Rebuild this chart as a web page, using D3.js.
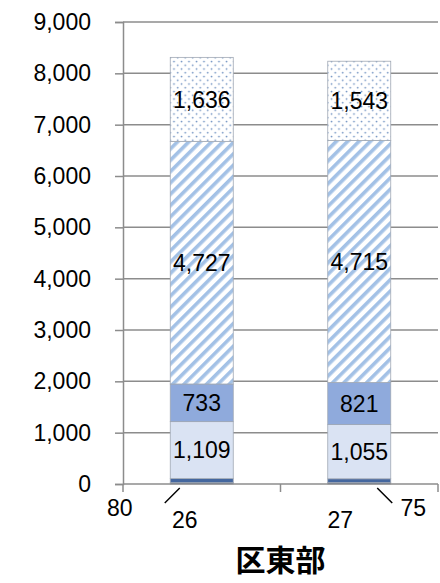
<!DOCTYPE html>
<html><head><meta charset="utf-8">
<script src="https://cdn.jsdelivr.net/npm/d3@7"></script>
<style>body{margin:0;background:#fff}svg{display:block}</style>
</head><body>
<svg id="chart" width="440" height="583"></svg>
<script>
const categories = ["c1", "c2"];
const groupLabel = "区東部";
const seriesNames = ["s1", "s2", "s3", "s4", "s5", "s6"];
const s1 = [26, 27];
const s2 = [80, 75];
const s3 = [1109, 1055];
const s4 = [733, 821];
const s5 = [4727, 4715];
const s6 = [1636, 1543];
const yTicks = [0, 1000, 2000, 3000, 4000, 5000, 6000, 7000, 8000, 9000];

(function () {
const seriesValues = [s1, s2, s3, s4, s5, s6];
const table = categories.map((c, i) => {
  const row = {cat: c};
  seriesNames.forEach((s, k) => row[s] = seriesValues[k][i]);
  return row;
});

const svg = d3.select("#chart");
const font = "'Liberation Sans', Arial, sans-serif";
const defs = svg.append("defs");
const stripe = defs.append("pattern").attr("id", "stripe").attr("patternUnits", "userSpaceOnUse")
  .attr("width", 8).attr("height", 8).attr("patternTransform", "rotate(45)");
stripe.append("rect").attr("width", 8).attr("height", 8).attr("fill", "#fff");
stripe.append("rect").attr("x", 0).attr("width", 3.6).attr("height", 8).attr("fill", "#a3c1e6");
const dots = defs.append("pattern").attr("id", "dots").attr("patternUnits", "userSpaceOnUse")
  .attr("width", 7.5).attr("height", 7.5);
dots.append("rect").attr("width", 7.5).attr("height", 7.5).attr("fill", "#fff");
dots.append("circle").attr("cx", 1.5).attr("cy", 1.5).attr("r", 0.9).attr("fill", "#6d8fc0");
dots.append("circle").attr("cx", 5.25).attr("cy", 5.25).attr("r", 0.9).attr("fill", "#6d8fc0");

const fills = ["#2f5597", "#44679f", "#dae3f3", "#8faadc", "url(#stripe)", "url(#dots)"];

const mLeft = 123, mRight = 438, mTop = 22, mBottom = 484;
const x = d3.scaleBand().domain(categories).range([mLeft, mRight]).paddingInner(0.6).paddingOuter(0.3);
const xb = d3.scaleBand().domain(categories).range([mLeft, mRight]);
const y = d3.scaleLinear().domain([0, 9000]).range([mBottom, mTop]);

// gridlines
svg.append("g").selectAll("line").data(yTicks.filter(t => t > 0)).join("line")
  .attr("x1", mLeft).attr("x2", mRight).attr("y1", d => y(d)).attr("y2", d => y(d))
  .attr("stroke", "#8c8c8c").attr("stroke-width", 1.5);

// y axis
const yAxis = svg.append("g").attr("transform", `translate(${mLeft},0)`)
  .call(d3.axisLeft(y).tickValues(yTicks).tickFormat(d3.format(",")).tickSize(8).tickPadding(24));
yAxis.select(".domain").attr("stroke", "#8c8c8c").attr("stroke-width", 1.5);
yAxis.selectAll(".tick line").attr("stroke", "#8c8c8c").attr("stroke-width", 1.5);
yAxis.selectAll("text").attr("font-family", font).attr("font-size", 23).attr("fill", "#000");

// bars
const stack = d3.stack().keys(seriesNames)(table);
const layers = svg.append("g").selectAll("g").data(stack).join("g")
  .attr("fill", (d, i) => fills[i]);
layers.selectAll("rect").data(d => d).join("rect")
  .attr("x", d => x(d.data.cat)).attr("width", x.bandwidth())
  .attr("y", d => y(d[1])).attr("height", d => y(d[0]) - y(d[1]))
  .attr("stroke", "#a0a8b4").attr("stroke-width", 0.8);

// x axis
const xAxisG = svg.append("g");
xAxisG.append("line").attr("x1", mLeft).attr("x2", mRight).attr("y1", mBottom).attr("y2", mBottom)
  .attr("stroke", "#8c8c8c").attr("stroke-width", 1.5);
const bounds = categories.map(c => xb(c)).concat([mRight]);
xAxisG.selectAll("line.t").data(bounds).join("line").attr("class", "t")
  .attr("x1", d => d).attr("x2", d => d).attr("y1", mBottom).attr("y2", mBottom + 8)
  .attr("stroke", "#8c8c8c").attr("stroke-width", 1.5);

// data labels inside (series 3..6)
const labels = svg.append("g").attr("font-family", font).attr("font-size", 23).attr("fill", "#000")
  .attr("text-anchor", "middle");
stack.slice(2).forEach(layer => {
  labels.selectAll(null).data(layer).join("text")
    .attr("x", d => x(d.data.cat) + x.bandwidth() / 2)
    .attr("y", d => (y(d[0]) + y(d[1])) / 2)
    .attr("dy", "0.36em")
    .text(d => d3.format(",")(d[1] - d[0]));
});

// small series labels outside
categories.forEach((c, i) => {
  const cx = x(c) + x.bandwidth() / 2;
  labels.append("text").attr("x", cx + (i === 0 ? -17 : -19)).attr("y", y(0) + 36)
    .attr("dy", "0.36em").text(d3.format(",")(s1[i]));
  const lx0 = cx + (i === 0 ? -22 : 18), lx1 = cx + (i === 0 ? -37 : 33);
  svg.append("line").attr("x1", lx0).attr("y1", y(0) + 4).attr("x2", lx1).attr("y2", y(0) + 19)
    .attr("stroke", "#000").attr("stroke-width", 1.5);
  labels.append("text").attr("x", cx + (i === 0 ? -82 : 54)).attr("y", y(0) + 24)
    .attr("dy", "0.36em").text(d3.format(",")(s2[i]));
});

// group label
svg.append("text").attr("x", (mLeft + mRight) / 2).attr("y", 560).attr("dy", "0.36em")
  .attr("text-anchor", "middle").attr("font-family", "'Noto Sans CJK JP', sans-serif")
  .attr("font-size", 30).attr("font-weight", 700).attr("fill", "#000").text(groupLabel);
})();
</script>
</body></html>
